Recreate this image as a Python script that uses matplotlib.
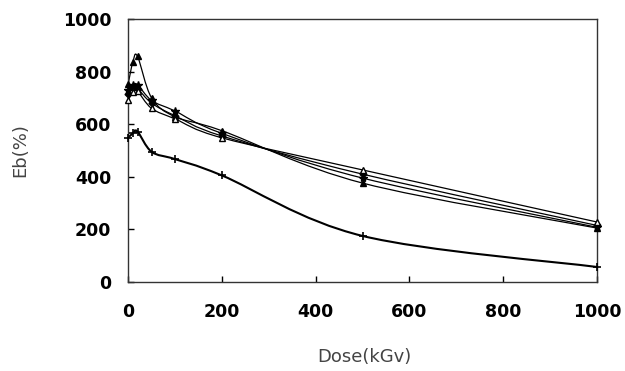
import matplotlib
matplotlib.use("Agg")
import matplotlib.pyplot as plt
import numpy as np
from matplotlib.path import Path
from matplotlib.patches import PathPatch

# dose points (kGy) and Eb(%) values
dose = [0, 10, 20, 50, 100, 200, 500, 1000]
eb_tri_filled = [752, 835, 858, 700, 628, 575, 376, 205]
eb_star = [728, 748, 750, 690, 650, 565, 395, 208]
eb_diamond = [715, 738, 735, 680, 632, 555, 410, 215]
eb_tri_open = [690, 722, 725, 660, 620, 548, 426, 228]
eb_plus = [548, 565, 572, 495, 467, 405, 175, 57]

x_ticks = [0, 200, 400, 600, 800, 1000]
y_ticks = [0, 200, 400, 600, 800, 1000]


def smooth_path(x, y):
    # bezier curve through the points, spreadsheet style smoothing
    pts = np.column_stack([x, y]).astype(float)
    n = len(pts)
    verts = [pts[0]]
    codes = [Path.MOVETO]
    for i in range(n - 1):
        p0 = pts[i - 1] if i > 0 else pts[i]
        p1 = pts[i]
        p2 = pts[i + 1]
        p3 = pts[i + 2] if i + 2 < n else pts[i + 1]
        verts += [p1 + (p2 - p0) / 6, p2 - (p3 - p1) / 6, p2]
        codes += [Path.CURVE4] * 3
    return Path(verts, codes)


fig = plt.figure(figsize=(6.25, 3.71), dpi=100)
ax = fig.add_axes([0.205, 0.24, 0.75, 0.709])

series = [
    (eb_tri_filled, dict(marker="^", ms=5, mfc="black"), 0.9),
    (eb_star, dict(marker="*", ms=6, mfc="black"), 0.9),
    (eb_diamond, dict(marker="D", ms=3.5, mfc="black"), 0.9),
    (eb_tri_open, dict(marker="^", ms=5, mfc="white"), 0.9),
    (eb_plus, dict(marker="+", ms=6, mew=1.2), 1.5),
]
for vals, mk, lw in series:
    ax.add_patch(PathPatch(smooth_path(dose, vals), fill=False,
                           edgecolor="black", lw=lw))
    ax.plot(dose, vals, linestyle="none", color="black", mec="black",
            clip_on=False, zorder=3, **mk)

ax.set_xlim(0, 1000)
ax.set_ylim(0, 1000)
ax.set_xticks(x_ticks)
ax.set_yticks(y_ticks)
ax.tick_params(direction="in", length=4, width=1, labelsize=12.5)
ax.tick_params(axis="x", pad=15)
ax.tick_params(axis="y", pad=12)
for lab in ax.get_xticklabels() + ax.get_yticklabels():
    lab.set_fontweight("bold")
for sp in ax.spines.values():
    sp.set_linewidth(1)
    sp.set_color("#333333")

ax.set_xlabel("Dose(kGv)", fontsize=13, color="#444444")
ax.set_ylabel("Eb(%)", fontsize=13, color="#444444")
ax.xaxis.set_label_coords(0.505, -0.25)
ax.yaxis.set_label_coords(-0.21, 0.5)

fig.savefig("out.png", dpi=100)
